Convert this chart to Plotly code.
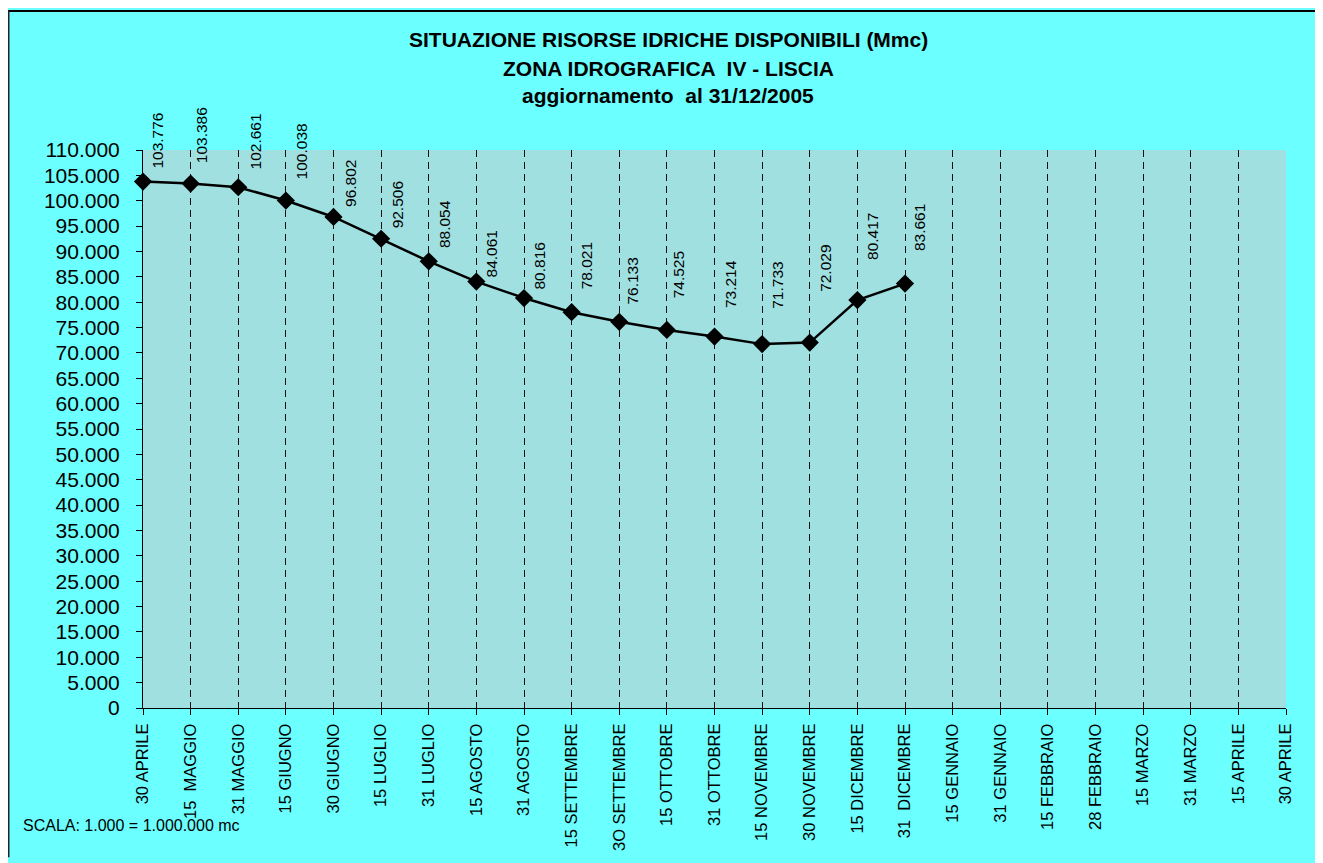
import plotly.graph_objects as go

categories = ["30 APRILE", "15 \u00a0MAGGIO", "31 MAGGIO", "15 GIUGNO", "30 GIUGNO",
              "15 LUGLIO", "31 LUGLIO", "15 AGOSTO", "31 AGOSTO", "15 SETTEMBRE",
              "3O SETTEMBRE", "15 OTTOBRE", "31 OTTOBRE", "15 NOVEMBRE", "30 NOVEMBRE",
              "15 DICEMBRE", "31 \u00a0DICEMBRE", "15 GENNAIO", "31 GENNAIO", "15 FEBBRAIO",
              "28 FEBBRAIO", "15 MARZO", "31 MARZO", "15 APRILE", "30 APRILE"]
volumes = [103776, 103386, 102661, 100038, 96802, 92506, 88054, 84061, 80816,
           78021, 76133, 74525, 73214, 71733, 72029, 80417, 83661]
y_ticks = list(range(0, 110001, 5000))

# label placement (pixel offsets of each rotated data label above its point)
label_gap = [11, 18, 16, 19, 8, 8, 11, 2, 6, 21, 15, 30, 26, 33, 49, 38, 30]
label_dx = [15, 11, 17, 16, 17, 16, 16, 15, 16, 15, 13, 12, 16, 15, 15, 15, 14]

FONT = "Liberation Sans, Arial, sans-serif"
OFF = 8                      # page body margin
W, H = 1323 - OFF, 863 - OFF
PL, PR, PT, PB = 143, 1286, 150, 718   # plot area in screen pixels
L, T = PL - OFF, PT - OFF
R, B = W - (PR - OFF), H - (PB - OFF)
pw, ph = PR - PL, PB - PT

def sx(p):
    return (p - PL) / pw

def sy(p):
    return (PB - p) / ph

def fmt(v):
    return f"{v:,}".replace(",", ".")

x_idx = list(range(len(volumes)))

fig = go.Figure()
fig.add_trace(go.Scatter(
    x=x_idx, y=volumes, mode="lines+markers",
    line=dict(color="black", width=2.5),
    marker=dict(symbol="diamond", size=14, color="black"),
    hoverinfo="skip", showlegend=False, cliponaxis=False,
))

for i, v in zip(x_idx, volumes):
    fig.add_annotation(x=i, y=v, xref="x", yref="y", text=fmt(v), textangle=-90,
                       showarrow=False, xanchor="center", yanchor="bottom",
                       xshift=label_dx[i], yshift=label_gap[i],
                       font=dict(family=FONT, size=15.5, color="black"))

titles = ["SITUAZIONE RISORSE IDRICHE DISPONIBILI (Mmc)",
          "ZONA IDROGRAFICA \u00a0IV - LISCIA",
          "aggiornamento \u00a0al 31/12/2005"]
for t, yy in zip(titles, [38, 67, 95]):
    fig.add_annotation(x=sx(668), y=sy(yy), xref="paper", yref="paper", text=f"<b>{t}</b>",
                       showarrow=False, xanchor="center", yanchor="middle",
                       font=dict(family=FONT, size=21, color="black"))

fig.add_annotation(x=sx(21), y=sy(838), xref="paper", yref="paper",
                   text="SCALA: 1.000 = 1.000.000 mc", showarrow=False,
                   xanchor="left", yanchor="middle", font=dict(family=FONT, size=16, color="black"))

# outer frame border (top and left)
fig.add_shape(type="line", xref="paper", yref="paper", x0=sx(OFF), x1=sx(1330),
              y0=sy(OFF + 0.5), y1=sy(OFF + 0.5), line=dict(color="black", width=2))
fig.add_shape(type="line", xref="paper", yref="paper", x0=sx(OFF + 0.5), x1=sx(OFF + 0.5),
              y0=sy(OFF), y1=sy(870), line=dict(color="#222222", width=2))

fig.update_layout(
    width=W, height=H,
    margin=dict(l=L, r=R, t=T, b=B, pad=0),
    paper_bgcolor="#6BFFFF", plot_bgcolor="#A0E0E0",
    separators=",.",
    font=dict(family=FONT, color="black"),
    showlegend=False,
)
fig.update_xaxes(
    range=[0, len(categories) - 1], tickmode="array",
    tickvals=list(range(len(categories))), ticktext=categories,
    tickangle=-90, tickfont=dict(family=FONT, size=16.5),
    ticks="outside", ticklen=6, tickcolor="black", tickwidth=1,
    showline=True, linecolor="black", linewidth=1,
    showgrid=True, gridcolor="#111111", gridwidth=1, griddash="7px,5px",
    zeroline=False, fixedrange=True, ticklabelstandoff=2,
)
fig.update_yaxes(
    range=[0, 110000], tickmode="array", tickvals=y_ticks,
    ticktext=[fmt(v) for v in y_ticks],
    tickfont=dict(family=FONT, size=21),
    ticks="outside", ticklen=6, tickcolor="black", tickwidth=1,
    showline=True, linecolor="black", linewidth=1,
    showgrid=False, zeroline=False, fixedrange=True, ticklabelstandoff=12,
)

fig.write_html("out.html")
